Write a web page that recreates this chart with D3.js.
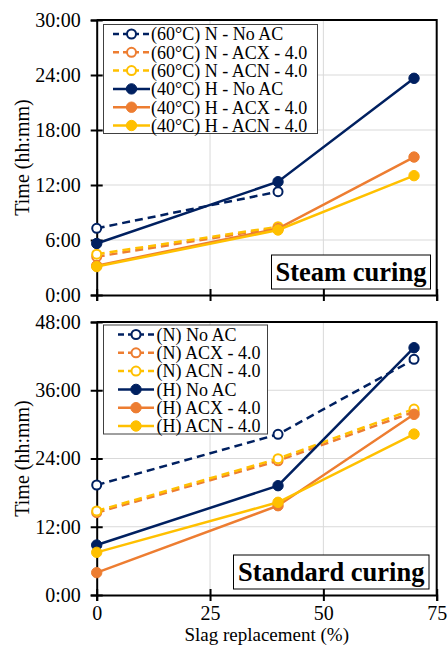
<!DOCTYPE html>
<html>
<head>
<meta charset="utf-8">
<script src="https://cdn.jsdelivr.net/npm/d3@7/dist/d3.min.js"></script>
<style>
  html, body { margin: 0; padding: 0; background: #fff; }
  svg { display: block; }
</style>
</head>
<body>
<svg id="chart" width="447" height="646"></svg>
<script>
// Slag replacement levels (%)
const slag = [0, 40, 70];

// Setting times in hours — steam curing
const steamLabels = ["(60°C) N - No AC", "(60°C) N - ACX - 4.0", "(60°C) N - ACN - 4.0",
                     "(40°C) H - No AC", "(40°C) H - ACX - 4.0", "(40°C) H - ACN - 4.0"];
const steamN_NoAC = [7.28, 11.27];
const steamN_ACX  = [4.18, 7.34];
const steamN_ACN  = [4.45, 7.45];
const steamH_NoAC = [5.62, 12.36, 23.64];
const steamH_ACX  = [3.2, 7.24, 15.05];
const steamH_ACN  = [3.1, 7.09, 13.02];

// Setting times in hours — standard curing
const stdLabels = ["(N) No AC", "(N) ACX - 4.0", "(N) ACN - 4.0",
                   "(H) No AC", "(H) ACX - 4.0", "(H) ACN - 4.0"];
const stdN_NoAC = [19.34, 28.25, 41.43];
const stdN_ACX  = [14.47, 23.6, 32.2];
const stdN_ACN  = [14.77, 23.97, 32.7];
const stdH_NoAC = [8.79, 19.22, 43.48];
const stdH_ACX  = [3.93, 15.7, 31.77];
const stdH_ACN  = [7.5, 16.3, 28.3];

const xTicks = [0, 25, 50, 75];
const steamYTicks = [0, 6, 12, 18, 24, 30];
const stdYTicks = [0, 12, 24, 36, 48];

const NAVY = "#002060", ORANGE = "#ED7D31", YELLOW = "#FFC000";
const FONT = "'Liberation Serif', 'Times New Roman', Times, 'DejaVu Serif', serif";
const seriesStyle = [
  { color: NAVY,   dashed: true,  open: true },
  { color: ORANGE, dashed: true,  open: true },
  { color: YELLOW, dashed: true,  open: true },
  { color: NAVY,   dashed: false, open: false },
  { color: ORANGE, dashed: false, open: false },
  { color: YELLOW, dashed: false, open: false }
];

const svg = d3.select("#chart").attr("font-family", FONT);
const left = 96.7, right = 436.7;
const fmtTime = h => `${h}:00`;

function txt(sel, size, weight) {
  return sel.attr("font-family", FONT).attr("font-size", size)
    .attr("font-weight", weight || "normal").attr("fill", "#000");
}

function panel(cfg) {
  const x = d3.scaleLinear().domain([0, 75]).range([left, right]);
  const y = d3.scaleLinear().domain([0, cfg.yMax]).range([cfg.bottom, cfg.top]);
  const g = svg.append("g");

  // grid
  g.selectAll(".hg").data(cfg.yTicks.filter(t => t > 0)).join("line")
    .attr("x1", left).attr("x2", right)
    .attr("y1", d => y(d)).attr("y2", d => y(d))
    .attr("stroke", "#d9d9d9").attr("stroke-width", 1);
  g.selectAll(".vg").data(xTicks.filter(t => t > 0 && t < 75)).join("line")
    .attr("x1", d => x(d)).attr("x2", d => x(d))
    .attr("y1", cfg.top).attr("y2", cfg.bottom)
    .attr("stroke", "#d9d9d9").attr("stroke-width", 1);

  // plot frame (top/right)
  g.append("path")
    .attr("d", `M${left},${cfg.top}H${right}V${cfg.bottom}`)
    .attr("fill", "none").attr("stroke", "#000").attr("stroke-width", 2);

  // y axis
  const yAxis = g.append("g").attr("transform", `translate(${left},0)`)
    .call(d3.axisLeft(y).tickValues(cfg.yTicks).tickFormat(fmtTime).tickSize(6).tickPadding(10));
  yAxis.attr("font-family", FONT);
  yAxis.select(".domain").attr("stroke", "#000").attr("stroke-width", 2);
  yAxis.selectAll(".tick line").attr("x2", -6).attr("x1", 6).attr("stroke", "#000").attr("stroke-width", 2);
  txt(yAxis.selectAll(".tick text").attr("x", -16), 20);

  // x axis
  const xAxis = g.append("g").attr("transform", `translate(0,${cfg.bottom})`)
    .call(d3.axisBottom(x).tickValues(xTicks).tickSize(6).tickPadding(5)
      .tickFormat(cfg.showXLabels ? d3.format("d") : () => ""));
  xAxis.attr("font-family", FONT);
  xAxis.select(".domain").attr("stroke", "#000").attr("stroke-width", 2);
  xAxis.selectAll(".tick line").attr("y1", -6).attr("y2", 6).attr("stroke", "#000").attr("stroke-width", 2);
  txt(xAxis.selectAll(".tick text"), 20);

  // y title
  txt(g.append("text")
    .attr("transform", `translate(29,${(cfg.top + cfg.bottom) / 2}) rotate(-90)`)
    .attr("text-anchor", "middle"), 20).text("Time (hh:mm)");

  // series
  const line = d3.line().x(d => x(d[0])).y(d => y(d[1]));
  cfg.series.forEach((vals, i) => {
    const st = seriesStyle[i];
    const pts = vals.map((v, j) => [slag[j], v]);
    g.append("path").datum(pts).attr("d", line)
      .attr("fill", "none").attr("stroke", st.color).attr("stroke-width", 2.5)
      .attr("stroke-dasharray", st.dashed ? "8,5" : null);
    g.selectAll(null).data(pts).join("circle")
      .attr("cx", d => x(d[0])).attr("cy", d => y(d[1])).attr("r", st.open ? 4.5 : 5.2)
      .attr("fill", st.open ? "#fff" : st.color)
      .attr("stroke", st.color).attr("stroke-width", st.open ? 2 : 1);
  });

  // legend
  const L = cfg.legend;
  g.append("rect").attr("x", L.x).attr("y", L.y).attr("width", L.w).attr("height", L.h)
    .attr("fill", "#fff").attr("stroke", "#404040").attr("stroke-width", 1);
  cfg.labels.forEach((lab, i) => {
    const st = seriesStyle[i];
    const yy = L.y + 9.5 + i * 18.3;
    g.append("line").attr("x1", L.sx0).attr("x2", L.sx1).attr("y1", yy).attr("y2", yy)
      .attr("stroke", st.color).attr("stroke-width", 2.5)
      .attr("stroke-dasharray", st.dashed ? "6,4" : null);
    g.append("circle").attr("cx", (L.sx0 + L.sx1) / 2).attr("cy", yy).attr("r", st.open ? 4.5 : 5.2)
      .attr("fill", st.open ? "#fff" : st.color).attr("stroke", st.color)
      .attr("stroke-width", st.open ? 2 : 1);
    txt(g.append("text").attr("x", L.tx).attr("y", yy).attr("dy", "0.35em"), 18).text(lab);
  });

  // curing label box
  const B = cfg.box;
  g.append("rect").attr("x", B.x).attr("y", B.y).attr("width", B.w).attr("height", B.h)
    .attr("fill", "#fff").attr("stroke", "#000").attr("stroke-width", 1);
  txt(g.append("text").attr("x", B.x + B.w / 2).attr("y", B.y + B.h / 2).attr("dy", "0.35em")
    .attr("text-anchor", "middle"), 26.5, "bold").text(cfg.title);
}

panel({
  top: 20, bottom: 295, yMax: 30, yTicks: steamYTicks, showXLabels: false,
  series: [steamN_NoAC, steamN_ACX, steamN_ACN, steamH_NoAC, steamH_ACX, steamH_ACN],
  labels: steamLabels,
  legend: { x: 103.5, y: 24.5, w: 214, h: 109, sx0: 113, sx1: 150, tx: 151 },
  box: { x: 271.5, y: 255, w: 159, h: 34 },
  title: "Steam curing"
});

panel({
  top: 322, bottom: 595, yMax: 48, yTicks: stdYTicks, showXLabels: true,
  series: [stdN_NoAC, stdN_ACX, stdN_ACN, stdH_NoAC, stdH_ACX, stdH_ACN],
  labels: stdLabels,
  legend: { x: 103.5, y: 325, w: 164, h: 109, sx0: 118, sx1: 154, tx: 156.5 },
  box: { x: 233.5, y: 555, w: 195.5, h: 34 },
  title: "Standard curing"
});

txt(svg.append("text").attr("x", 266.7).attr("y", 641.3).attr("text-anchor", "middle"), 19)
  .text("Slag replacement (%)");
</script>
</body>
</html>
